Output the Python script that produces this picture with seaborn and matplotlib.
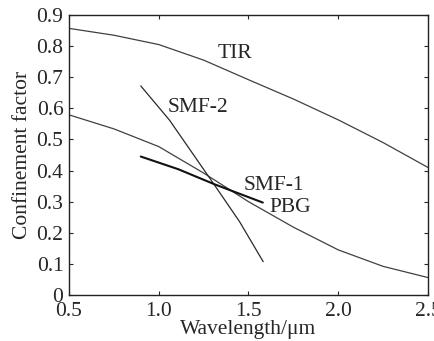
import numpy as np
import pandas as pd
import matplotlib
matplotlib.use("Agg")
import matplotlib.pyplot as plt
import seaborn as sns

# Curves
tir_x = [0.5, 0.75, 1.0, 1.25, 1.5, 1.75, 2.0, 2.25, 2.5]
tir_y = [0.857, 0.835, 0.805, 0.755, 0.692, 0.630, 0.563, 0.490, 0.410]

pbg_x = [0.5, 0.75, 1.0, 1.25, 1.5, 1.75, 2.0, 2.25, 2.5]
pbg_y = [0.579, 0.534, 0.477, 0.392, 0.300, 0.218, 0.145, 0.092, 0.056]

smf2_x = [0.90, 1.06, 1.31, 1.45, 1.582]
smf2_y = [0.672, 0.562, 0.354, 0.236, 0.107]

smf1_x = [0.90, 1.11, 1.31, 1.58]
smf1_y = [0.445, 0.404, 0.356, 0.297]

x_ticks = [0.5, 1.0, 1.5, 2.0, 2.5]
x_tick_labels = ["0.5", "1.0", "1.5", "2.0", "2.5"]
y_ticks = [0, 0.1, 0.2, 0.3, 0.4, 0.5, 0.6, 0.7, 0.8, 0.9]
y_tick_labels = ["0", "0.1", "0.2", "0.3", "0.4", "0.5", "0.6", "0.7", "0.8", "0.9"]

sns.set_style("ticks")
plt.rcParams["font.family"] = ["Liberation Serif", "DejaVu Serif"]

fig = plt.figure(figsize=(4.34, 3.41), dpi=100)
ax = fig.add_axes([0.159, 0.135, 0.827, 0.821])

sns.lineplot(x=tir_x, y=tir_y, ax=ax, color="#404040", linewidth=0.9)
sns.lineplot(x=pbg_x, y=pbg_y, ax=ax, color="#404040", linewidth=0.9)
sns.lineplot(x=smf2_x, y=smf2_y, ax=ax, color="#2a2a2a", linewidth=0.9)
sns.lineplot(x=smf1_x, y=smf1_y, ax=ax, color="#111111", linewidth=1.5)

fs = 15.5
ax.text(1.425, 0.777, "TIR", fontsize=fs, ha="center", va="center")
ax.text(1.22, 0.603, "SMF-2", fontsize=fs, ha="center", va="center")
ax.text(1.642, 0.352, "SMF-1", fontsize=fs, ha="center", va="center")
ax.text(1.735, 0.282, "PBG", fontsize=fs, ha="center", va="center")

ax.set_xlim(0.5, 2.5)
ax.set_ylim(0, 0.9)
ax.set_xticks(x_ticks)
ax.set_xticklabels(x_tick_labels)
ax.set_yticks(y_ticks)
ax.set_yticklabels(y_tick_labels)
ax.tick_params(direction="in", top=True, right=True, labelsize=fs, length=3, width=0.8)
ax.tick_params(axis="x", pad=5)
ax.tick_params(axis="y", pad=4)
for s in ax.spines.values():
    s.set_linewidth(1.0)
    s.set_color("#222222")
ax.set_xlabel("Wavelength/μm", fontsize=fs, labelpad=-1)
ax.set_ylabel("Confinement factor", fontsize=fs, labelpad=3)

fig.savefig("out.png", dpi=100)
